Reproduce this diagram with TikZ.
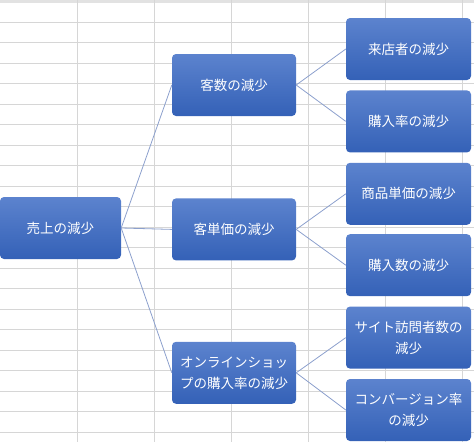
\documentclass[tikz,border=0pt]{standalone}
\usepackage{fontspec}
\setmainfont{Noto Sans CJK JP}
\usepackage{xcolor}
\usepackage{tikz}
\usetikzlibrary{positioning}
\definecolor{boxtop}{RGB}{92,131,206}
\definecolor{boxbottom}{RGB}{52,97,183}
\definecolor{linkblue}{RGB}{140,160,205}
\definecolor{cellgray}{RGB}{214,214,214}

\begin{document}
\begin{tikzpicture}[
  x=1pt, y=-1pt,
  every node/.style={font=\fontsize{13.5}{21}\selectfont},
  box/.style={
    rounded corners=4pt, inner sep=0pt,
    minimum width=124pt, minimum height=62pt,
    align=center, text=white,
    top color=boxtop, bottom color=boxbottom
  },
  link/.style={draw=linkblue, line width=0.8pt},
  cell/.style={draw=cellgray, line width=0.8pt},
]
\useasboundingbox (0,0) rectangle (474,442);

% Sheet grid
\fill[cellgray!70] (0,0) rectangle (474,2.5);
\foreach \c in {1,...,6}
  \draw[cell] (77*\c,0) -- (77*\c,442);
\foreach \r in {0,...,20}
  \draw[cell] (0,22+20.5*\r) -- (474,22+20.5*\r);

% Boxes
\node[box, minimum width=121pt] (sales) at (60.5,228) {売上の減少};

\node[box] (cust) at (234,85) {客数の減少};
\node[box, below=82pt of cust] (price) {客単価の減少};
\node[box, below=81pt of price] (shop) {オンラインショッ\\プの購入率の減少};

\node[box, minimum width=125pt] (visit) at (408.5,49) {来店者の減少};
\node[box, minimum width=125pt, below=10pt of visit] (rate) {購入率の減少};
\node[box, minimum width=125pt, below=10pt of rate] (unit) {商品単価の減少};
\node[box, minimum width=125pt, below=9pt of unit] (count) {購入数の減少};
\node[box, minimum width=125pt, below=10pt of count] (site) {サイト訪問者数の\\減少};
\node[box, minimum width=125pt, below=10pt of site] (conv) {コンバージョン率\\の減少};

% Links
\draw[link] (sales.east) -- (cust.west);
\draw[link] (sales.east) -- (price.west);
\draw[link] (sales.east) -- (shop.west);
\draw[link] (cust.east) -- (visit.west);
\draw[link] (cust.east) -- (rate.west);
\draw[link] (price.east) -- (unit.west);
\draw[link] (price.east) -- (count.west);
\draw[link] (shop.east) -- (site.west);
\draw[link] (shop.east) -- (conv.west);

\end{tikzpicture}
\end{document}
